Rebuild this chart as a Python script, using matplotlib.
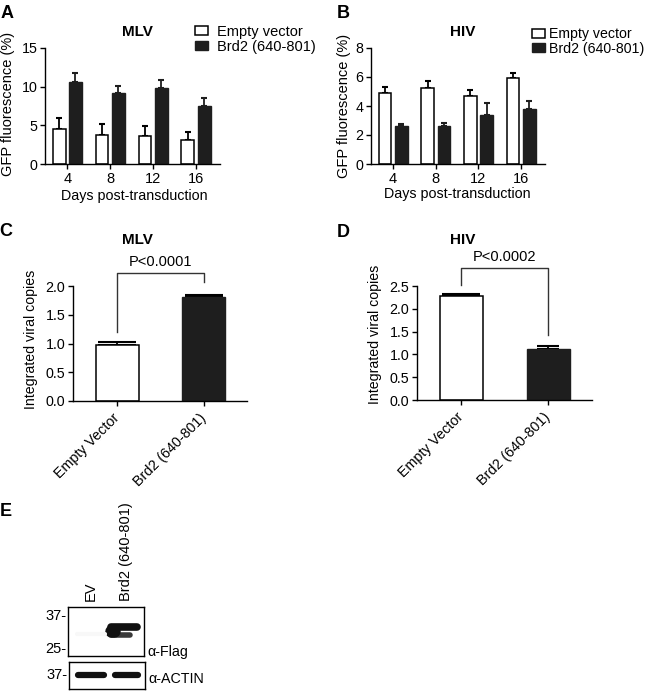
import numpy as np
import matplotlib
matplotlib.use("Agg")
import matplotlib.pyplot as plt
from matplotlib.patches import Patch

plt.rcParams["font.family"] = ["Liberation Sans", "DejaVu Sans"]
plt.rcParams["axes.linewidth"] = 1.0

# ---- data ----
days = [4, 8, 12, 16]
mlv_ev = [4.5, 3.8, 3.65, 3.15]
mlv_ev_err = [1.4, 1.35, 1.2, 1.0]
mlv_brd = [10.65, 9.2, 9.8, 7.5]
mlv_brd_err = [1.15, 0.85, 1.0, 1.0]
hiv_ev = [4.93, 5.23, 4.7, 5.92]
hiv_ev_err = [0.35, 0.46, 0.42, 0.39]
hiv_brd = [2.63, 2.65, 3.39, 3.78]
hiv_brd_err = [0.13, 0.2, 0.85, 0.57]

groups = ["Empty Vector", "Brd2 (640-801)"]
mlv_copies = [0.98, 1.81]
mlv_copies_err = [0.04, 0.03]
hiv_copies = [2.29, 1.12]
hiv_copies_err = [0.03, 0.07]

lanes = ["EV", "Brd2 (640-801)"]
# (lane, kDa, left extent, right extent, linewidth, colour)
flag_bands = [(1, 32.0, -0.42, 0.30, 5.5, "#111111"),
              (1, 28.8, -0.42, 0.12, 4.0, "#3a3a3a"),
              (1, 30.4, -0.44, -0.36, 9.0, "#111111")]
actin_bands = [(0, 37.5, -0.38, 0.38, 4.5, "#111111"),
               (1, 37.5, -0.33, 0.33, 4.5, "#111111")]

W, H = 649, 691
BLACK = "#1e1e1e"
FS = 10.3


def box(l, t, r, b):
    return [l / W, 1 - b / H, (r - l) / W, (b - t) / H]


def ftext(x, y, s, **kw):
    fig.text(x / W, 1 - y / H, s, **kw)


fig = plt.figure(figsize=(W / 100, H / 100), dpi=100)


def style(ax):
    for s in ["top", "right"]:
        ax.spines[s].set_visible(False)
    ax.tick_params(direction="out", length=3.5, width=1.0, labelsize=FS, pad=2)


def grouped(ax, ev, ev_err, brd, brd_err, ymax, yticks):
    x = np.arange(len(days))
    ax.bar(x - 0.19, ev, 0.3, color="white", edgecolor="black", linewidth=1.1, zorder=2)
    ax.bar(x + 0.19, brd, 0.3, color=BLACK, edgecolor=BLACK, linewidth=1.0, zorder=2)
    ax.errorbar(x - 0.19, ev, yerr=[np.zeros(len(ev)), ev_err], fmt="none",
                ecolor="black", elinewidth=1.3, capsize=2.5, capthick=1.5, zorder=1)
    ax.errorbar(x + 0.19, brd, yerr=[np.zeros(len(brd)), brd_err], fmt="none",
                ecolor=BLACK, elinewidth=1.3, capsize=2.5, capthick=1.5, zorder=1)
    ax.set_xlim(-0.52, 3.56)
    ax.set_ylim(0, ymax)
    ax.set_yticks(yticks)
    ax.set_xticks(x)
    ax.set_xticklabels(days)
    style(ax)
    ax.tick_params(axis="x", labelsize=10.5)


# ---- panel A ----
axA = fig.add_axes(box(45, 48, 220, 164))
grouped(axA, mlv_ev, mlv_ev_err, mlv_brd, mlv_brd_err, 15, [0, 5, 10, 15])
ftext(7, 13, "A", fontsize=13, fontweight="bold", ha="center", va="center")
ftext(137, 32, "MLV", fontsize=11, fontweight="bold", ha="center", va="center")
ftext(8, 104, "GFP fluorescence (%)", fontsize=10.5, rotation=90, ha="center", va="center")
ftext(134, 196, "Days post-transduction", fontsize=10.3, ha="center", va="center")

# ---- panel B ----
axB = fig.add_axes(box(371, 48, 545, 164))
grouped(axB, hiv_ev, hiv_ev_err, hiv_brd, hiv_brd_err, 8, [0, 2, 4, 6, 8])
ftext(343, 13, "B", fontsize=13, fontweight="bold", ha="center", va="center")
ftext(463, 32, "HIV", fontsize=11, fontweight="bold", ha="center", va="center")
ftext(344, 106, "GFP fluorescence (%)", fontsize=10.5, rotation=90, ha="center", va="center")
ftext(457, 194, "Days post-transduction", fontsize=10.3, ha="center", va="center")

handles = [Patch(facecolor="white", edgecolor="black", linewidth=1.1),
           Patch(facecolor=BLACK, edgecolor=BLACK)]
for (lx, ty, fs, pad) in [(195, 25, 10.5, 0.6), (532, 27, 10.2, 0.3)]:
    fig.legend(handles, ["Empty vector", "Brd2 (640-801)"], loc="upper left",
               bbox_to_anchor=(lx / W, 1 - ty / H), frameon=False, fontsize=fs,
               borderpad=0, borderaxespad=0, handlelength=0.9, handleheight=0.6,
               handletextpad=pad, labelspacing=0.05)


# ---- panels C and D ----
def copies(ax, vals, errs, caps, ymax, yticks, p_text, bracket, left_bot, right_bot, text_y):
    x = np.arange(len(groups))
    ax.bar(x[0], vals[0], 0.5, color="white", edgecolor="black", linewidth=1.1, zorder=2)
    ax.bar(x[1], vals[1], 0.5, color=BLACK, edgecolor=BLACK, linewidth=1.0, zorder=2)
    for xi, v, e, c in zip(x, vals, errs, caps):
        ax.errorbar(xi, v, yerr=[[0], [e]], fmt="none", ecolor="black",
                    elinewidth=1.3, capsize=c, capthick=1.5, zorder=1)
    ax.set_xlim(-0.51, 1.5)
    ax.set_ylim(0, ymax)
    ax.set_yticks(yticks)
    ax.set_yticklabels([f"{t:.1f}" for t in yticks])
    ax.set_xticks(x)
    ax.set_xticklabels(groups, rotation=45, ha="right", va="center", rotation_mode="anchor")
    style(ax)
    ax.tick_params(axis="x", labelsize=10.3, pad=7)
    ax.plot([x[0], x[0], x[1], x[1]], [left_bot, bracket, bracket, right_bot],
            color="#333333", lw=1.0, clip_on=False)
    ax.text(x.mean(), text_y, p_text, fontsize=10.5, ha="center", va="bottom", clip_on=False)


axC = fig.add_axes(box(73, 286, 247, 401))
copies(axC, mlv_copies, mlv_copies_err, [14, 14], 2.0, [0.0, 0.5, 1.0, 1.5, 2.0],
       "P<0.0001", 2.23, 1.2, 2.07, 2.29)
ftext(6, 231, "C", fontsize=13, fontweight="bold", ha="center", va="center")
ftext(137, 240, "MLV", fontsize=11, fontweight="bold", ha="center", va="center")
ftext(31, 339, "Integrated viral copies", fontsize=10.2, rotation=90, ha="center", va="center")

axD = fig.add_axes(box(417, 286, 592, 400))
copies(axD, hiv_copies, hiv_copies_err, [14, 8], 2.5, [0.0, 0.5, 1.0, 1.5, 2.0, 2.5],
       "P<0.0002", 2.89, 2.52, 1.43, 2.98)
ftext(343, 232, "D", fontsize=13, fontweight="bold", ha="center", va="center")
ftext(463, 240, "HIV", fontsize=11, fontweight="bold", ha="center", va="center")
ftext(375, 334, "Integrated viral copies", fontsize=10.2, rotation=90, ha="center", va="center")

# ---- panel E: western blot ----
ftext(6, 512, "E", fontsize=13, fontweight="bold", ha="center", va="center")

axF = fig.add_axes(box(68, 607, 144, 656))
axF.set_yscale("log")
axF.set_xlim(-0.66, 1.51)
axF.set_ylim(22.4, 40.8)
for lane, kda, x0, x1, lw, col in flag_bands:
    axF.plot([lane + x0, lane + x1], [kda, kda], color=col, lw=lw, solid_capstyle="round")
axF.plot([0 - 0.4, 0 + 0.4], [29.5, 29.5], color="#f8f8f8", lw=3, solid_capstyle="round")
axF.set_yticks([37, 25])
axF.set_yticklabels(["37-", "25-"])
axF.yaxis.set_minor_locator(matplotlib.ticker.NullLocator())
axF.set_xticks(range(len(lanes)))
axF.set_xticklabels(lanes, rotation=90, fontsize=10.5)
axF.xaxis.tick_top()
axF.tick_params(axis="x", length=0, pad=4)
axF.tick_params(axis="y", length=0, pad=1, labelsize=10.5)
axF.text(1.05, 0.08, "\u03b1-Flag", transform=axF.transAxes, fontsize=10.3, va="center")

axA2 = fig.add_axes(box(69, 662, 145, 689))
axA2.set_yscale("log")
axA2.set_xlim(-0.63, 1.54)
axA2.set_ylim(33, 42)
for lane, kda, x0, x1, lw, col in actin_bands:
    axA2.plot([lane + x0, lane + x1], [kda, kda], color=col, lw=lw, solid_capstyle="round")
axA2.set_yticks([37.8])
axA2.set_yticklabels(["37-"])
axA2.yaxis.set_minor_locator(matplotlib.ticker.NullLocator())
axA2.set_xticks([])
axA2.tick_params(axis="y", length=0, pad=1, labelsize=10.5)
axA2.text(1.04, 0.37, "\u03b1-ACTIN", transform=axA2.transAxes, fontsize=10.3, va="center")

fig.savefig("out.png", dpi=100)
